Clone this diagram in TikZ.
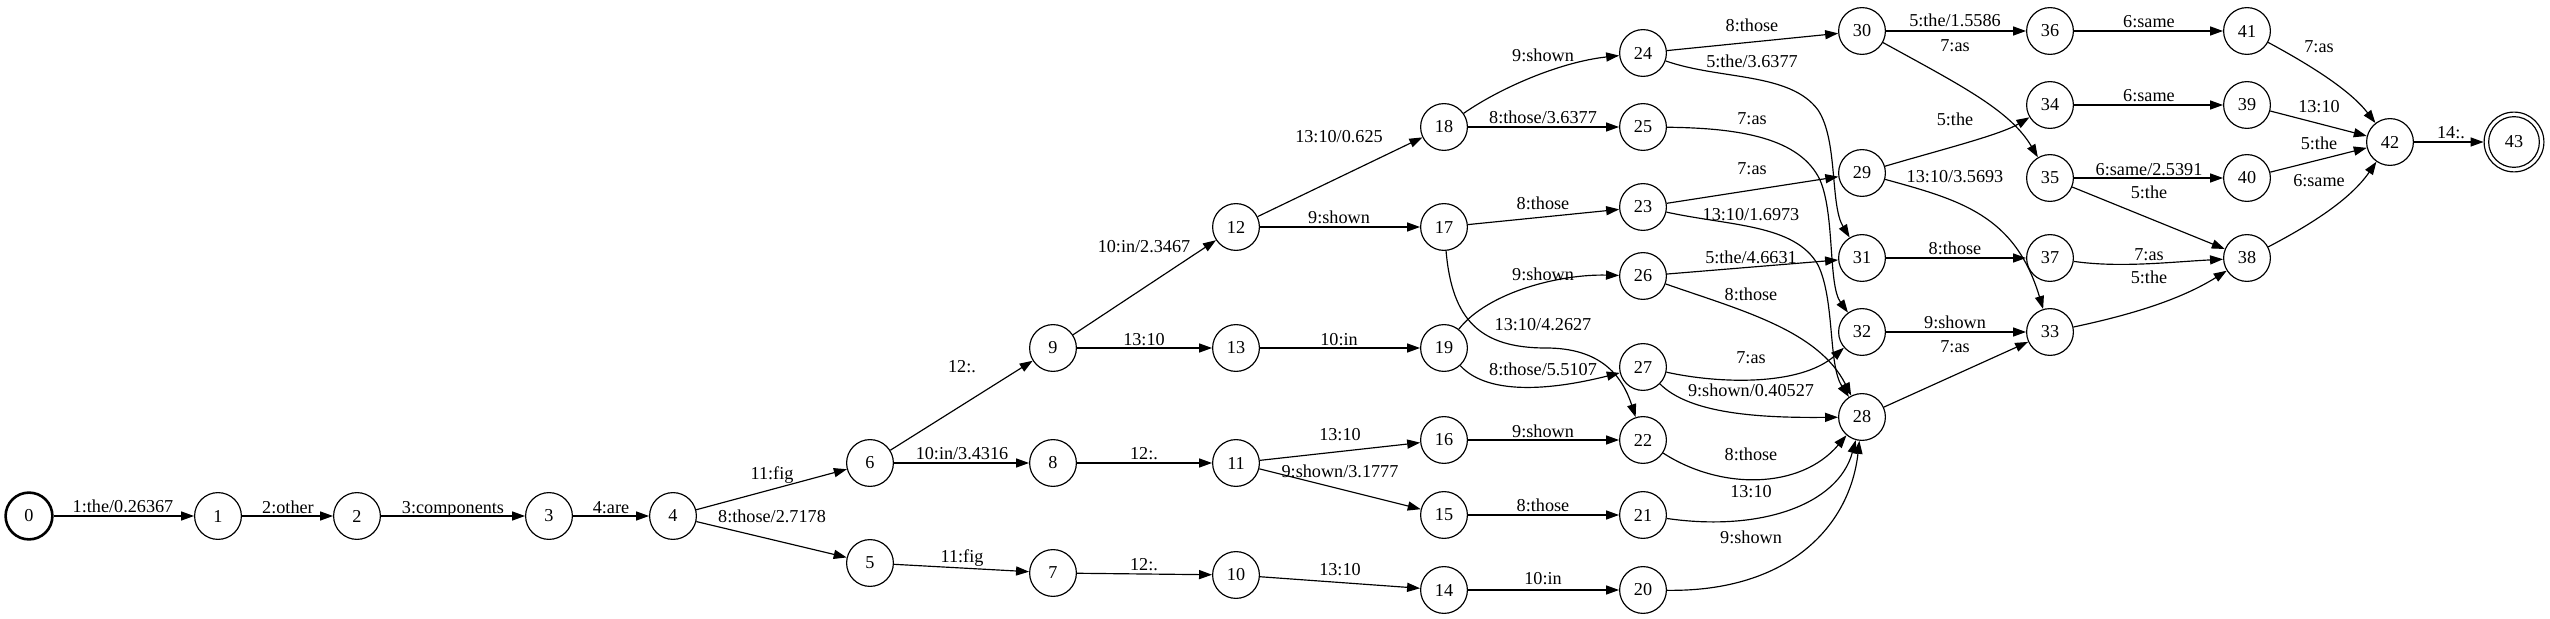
\documentclass[tikz,border=0pt]{standalone}
\usepackage{fontspec}
\setmainfont{Liberation Serif}
\usetikzlibrary{arrows.meta}
\begin{document}
\begin{tikzpicture}[x=0.76923pt,y=0.76923pt,
  st/.style={circle,draw,line width=0.9pt,minimum size=36pt,inner sep=0pt,font=\fontsize{14pt}{16pt}\selectfont},
  lbl/.style={anchor=base,inner sep=0pt,yshift=-4.2pt,font=\fontsize{14pt}{16pt}\selectfont},
  ed/.style={line width=0.9pt,-{Triangle[length=10pt,width=7pt]}}]
\useasboundingbox (0,0) rectangle (2550,-619);
% states
\node[st,line width=2pt] (n0) at (29,-516) {0};
\node[st] (n1) at (218,-516) {1};
\node[st] (n2) at (357,-516) {2};
\node[st] (n3) at (549,-516) {3};
\node[st] (n4) at (673,-516) {4};
\node[st] (n5) at (870,-563) {5};
\node[st] (n6) at (870,-463) {6};
\node[st] (n7) at (1053,-573) {7};
\node[st] (n8) at (1053,-463) {8};
\node[st] (n9) at (1053,-348) {9};
\node[st] (n10) at (1236,-575) {10};
\node[st] (n11) at (1236,-463) {11};
\node[st] (n12) at (1236,-227) {12};
\node[st] (n13) at (1236,-348) {13};
\node[st] (n14) at (1444,-590) {14};
\node[st] (n15) at (1444,-515) {15};
\node[st] (n16) at (1444,-440) {16};
\node[st] (n17) at (1444,-227) {17};
\node[st] (n18) at (1444,-127) {18};
\node[st] (n19) at (1444,-348) {19};
\node[st] (n20) at (1643,-590) {20};
\node[st] (n21) at (1643,-515) {21};
\node[st] (n22) at (1643,-440) {22};
\node[st] (n23) at (1643,-207) {23};
\node[st] (n24) at (1643,-53) {24};
\node[st] (n25) at (1643,-127) {25};
\node[st] (n26) at (1643,-276) {26};
\node[st] (n27) at (1643,-367) {27};
\node[st] (n28) at (1862,-417) {28};
\node[st] (n29) at (1862,-173) {29};
\node[st] (n30) at (1862,-31) {30};
\node[st] (n31) at (1862,-258) {31};
\node[st] (n32) at (1862,-332) {32};
\node[st] (n33) at (2050,-332) {33};
\node[st] (n34) at (2050,-105) {34};
\node[st] (n35) at (2050,-178) {35};
\node[st] (n36) at (2050,-31) {36};
\node[st] (n37) at (2050,-258) {37};
\node[st] (n38) at (2247,-258) {38};
\node[st] (n39) at (2247,-105) {39};
\node[st] (n40) at (2247,-178) {40};
\node[st] (n41) at (2247,-31) {41};
\node[st] (n42) at (2390,-142) {42};
\node[st,minimum size=46pt] (n43) at (2514,-142) {43};
\draw[line width=0.9pt] (n43.center) circle[radius=19.5pt];
% arcs
\draw[ed] (n0) -- (n1);
\draw[ed] (n1) -- (n2);
\draw[ed] (n2) -- (n3);
\draw[ed] (n3) -- (n4);
\draw[ed] (n4) -- (n6);
\draw[ed] (n4) -- (n5);
\draw[ed] (n5) -- (n7);
\draw[ed] (n6) -- (n8);
\draw[ed] (n6) -- (n9);
\draw[ed] (n8) -- (n11);
\draw[ed] (n7) -- (n10);
\draw[ed] (n9) -- (n12);
\draw[ed] (n9) -- (n13);
\draw[ed] (n11) -- (n16);
\draw[ed] (n11) -- (n15);
\draw[ed] (n10) -- (n14);
\draw[ed] (n12) -- (n18);
\draw[ed] (n12) -- (n17);
\draw[ed] (n13) -- (n19);
\draw[ed] (n18) .. controls (1500,-88) and (1560,-62) .. (n24);
\draw[ed] (n18) -- (n25);
\draw[ed] (n17) -- (n23);
\draw[ed] (n17) .. controls (1452,-320) and (1480,-348) .. (1546,-348) .. controls (1600,-348) and (1622,-375) .. (n22);
\draw[ed] (n19) .. controls (1488,-292) and (1560,-274) .. (n26);
\draw[ed] (n19) .. controls (1490,-398) and (1560,-388) .. (n27);
\draw[ed] (n16) -- (n22);
\draw[ed] (n15) -- (n21);
\draw[ed] (n14) -- (n20);
\draw[ed] (n24) -- (n30);
\draw[ed] (n24) .. controls (1720,-80) and (1790,-72) .. (1818,-110) .. controls (1838,-140) and (1830,-205) .. (n31);
\draw[ed] (n25) .. controls (1740,-128) and (1800,-138) .. (1820,-180) .. controls (1835,-215) and (1828,-285) .. (n32);
\draw[ed] (n23) -- (n29);
\draw[ed] (n23) .. controls (1730,-226) and (1795,-224) .. (1818,-265) .. controls (1835,-300) and (1828,-365) .. (n28);
\draw[ed] (n26) -- (n31);
\draw[ed] (n26) .. controls (1740,-310) and (1818,-330) .. (n28);
\draw[ed] (n27) .. controls (1720,-384) and (1800,-386) .. (n32);
\draw[ed] (n27) .. controls (1690,-414) and (1760,-418) .. (n28);
\draw[ed] (n22) .. controls (1720,-490) and (1800,-490) .. (n28);
\draw[ed] (n21) .. controls (1760,-532) and (1838,-505) .. (n28);
\draw[ed] (n20) .. controls (1790,-592) and (1850,-525) .. (n28);
\draw[ed] (n30) -- (n36);
\draw[ed] (n30) .. controls (1960,-85) and (2010,-110) .. (n35);
\draw[ed] (n29) .. controls (1940,-150) and (2000,-135) .. (n34);
\draw[ed] (n29) .. controls (1960,-200) and (2015,-215) .. (n33);
\draw[ed] (n31) -- (n37);
\draw[ed] (n32) -- (n33);
\draw[ed] (n28) -- (n33);
\draw[ed] (n36) -- (n41);
\draw[ed] (n34) -- (n39);
\draw[ed] (n35) -- (n40);
\draw[ed] (n35) -- (n38);
\draw[ed] (n37) .. controls (2120,-268) and (2170,-262) .. (n38);
\draw[ed] (n33) .. controls (2130,-315) and (2180,-300) .. (n38);
\draw[ed] (n41) .. controls (2310,-65) and (2350,-90) .. (n42);
\draw[ed] (n39) -- (n42);
\draw[ed] (n40) -- (n42);
\draw[ed] (n38) .. controls (2310,-225) and (2350,-200) .. (n42);
\draw[ed] (n42) -- (n43);
% labels
\node[lbl] (l01) at (123,-507) {1:the/0.26367};
\node[lbl] (l12) at (288,-508) {2:other};
\node[lbl] (l23) at (453,-508) {3:components};
\node[lbl] (l34) at (611,-508) {4:are};
\node[lbl] (l46) at (772,-474) {11:fig};
\node[lbl] (l45) at (772,-517) {8:those/2.7178};
\node[lbl] (l57) at (962,-557) {11:fig};
\node[lbl] (l68) at (962,-454) {10:in/3.4316};
\node[lbl] (l69) at (962,-367) {12:.};
\node[lbl] (l811) at (1144,-454) {12:.};
\node[lbl] (l710) at (1144,-565) {12:.};
\node[lbl] (l912) at (1144,-247) {10:in/2.3467};
\node[lbl] (l913) at (1144,-340) {13:10};
\node[lbl] (l1116) at (1340,-435) {13:10};
\node[lbl] (l1115) at (1340,-472) {9:shown/3.1777};
\node[lbl] (l1014) at (1340,-570) {13:10};
\node[lbl] (l1218) at (1339,-137) {13:10/0.625};
\node[lbl] (l1217) at (1339,-218) {9:shown};
\node[lbl] (l1319) at (1339,-340) {10:in};
\node[lbl] (l1824) at (1543,-56) {9:shown};
\node[lbl] (l1825) at (1543,-118) {8:those/3.6377};
\node[lbl] (l1723) at (1543,-204) {8:those};
\node[lbl] (l1722) at (1543,-325) {13:10/4.2627};
\node[lbl] (l1926) at (1543,-275) {9:shown};
\node[lbl] (l1927) at (1543,-370) {8:those/5.5107};
\node[lbl] (l1622) at (1543,-432) {9:shown};
\node[lbl] (l1521) at (1543,-506) {8:those};
\node[lbl] (l1420) at (1543,-579) {10:in};
\node[lbl] (l2430) at (1752,-26) {8:those};
\node[lbl] (l2431) at (1752,-62) {5:the/3.6377};
\node[lbl] (l2532) at (1752,-119) {7:as};
\node[lbl] (l2329) at (1752,-169) {7:as};
\node[lbl] (l2328) at (1751,-215) {13:10/1.6973};
\node[lbl] (l2631) at (1751,-258) {5:the/4.6631};
\node[lbl] (l2628) at (1751,-295) {8:those};
\node[lbl] (l2732) at (1751,-358) {7:as};
\node[lbl] (l2728) at (1751,-391) {9:shown/0.40527};
\node[lbl] (l2228) at (1751,-455) {8:those};
\node[lbl] (l2128) at (1751,-492) {13:10};
\node[lbl] (l2028) at (1751,-538) {9:shown};
\node[lbl] (l3036) at (1955,-21) {5:the/1.5586};
\node[lbl] (l3035) at (1955,-46) {7:as};
\node[lbl] (l2934) at (1955,-120) {5:the};
\node[lbl] (l2933) at (1955,-177) {13:10/3.5693};
\node[lbl] (l3137) at (1955,-249) {8:those};
\node[lbl] (l3233) at (1955,-323) {9:shown};
\node[lbl] (l2833) at (1955,-347) {7:as};
\node[lbl] (l3641) at (2149,-22) {6:same};
\node[lbl] (l3439) at (2149,-96) {6:same};
\node[lbl] (l3540) at (2149,-170) {6:same/2.5391};
\node[lbl] (l3538) at (2149,-193) {5:the};
\node[lbl] (l3738) at (2149,-255) {7:as};
\node[lbl] (l3338) at (2149,-278) {5:the};
\node[lbl] (l4142) at (2319,-47) {7:as};
\node[lbl] (l3942) at (2319,-107) {13:10};
\node[lbl] (l4042) at (2319,-144) {5:the};
\node[lbl] (l3842) at (2319,-181) {6:same};
\node[lbl] (l4243) at (2451,-133) {14:.};
\end{tikzpicture}
\end{document}
